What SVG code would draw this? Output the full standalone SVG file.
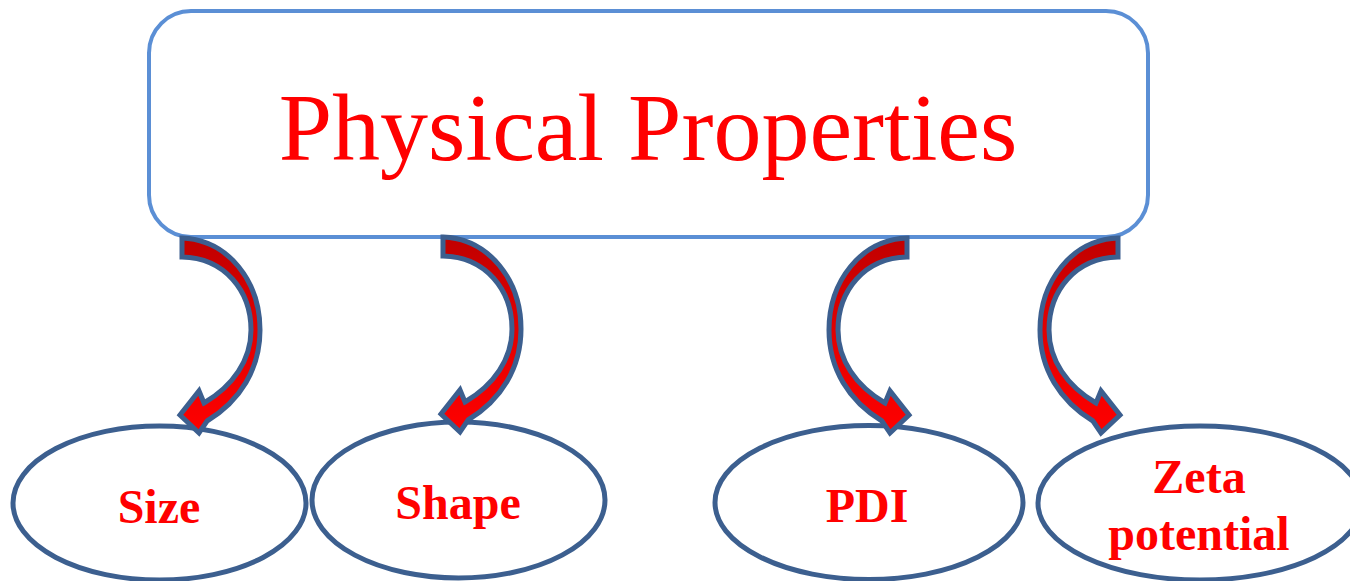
<svg xmlns="http://www.w3.org/2000/svg" width="1350" height="581" viewBox="0 0 1350 581">
<defs>
<linearGradient id="redgrad" x1="0" y1="0" x2="0" y2="1">
<stop offset="0" stop-color="#c00000"/>
<stop offset="0.45" stop-color="#e00000"/>
<stop offset="1" stop-color="#ff0000"/>
</linearGradient>
<path id="curvearrow" d="M182,238 C229,240 260,282 260,330 C260,369 240,401 207,421 L199,433 L180,415 L199,391 L204,403 C233,386 251,360 251,330 C251,291 225,258 182,257 Z"/>
</defs>
<style>
.box{fill:#ffffff;stroke:#5b8fd5;stroke-width:4}
.ell{fill:#ffffff;stroke:#3c5f8f;stroke-width:5}
.arr{fill:url(#redgrad);stroke:#3c5f8f;stroke-width:5;stroke-linejoin:miter}
.title{font-family:"Liberation Serif","Times New Roman",serif;font-size:96px;fill:#ff0000;text-anchor:middle}
.lbl{font-family:"Liberation Serif","Times New Roman",serif;font-weight:bold;font-size:48px;fill:#ff0000;text-anchor:middle}
</style>
<rect width="1350" height="581" fill="#ffffff"/>
<g id="physical-properties">
<rect class="box" x="149" y="11" width="999" height="226" rx="42" ry="42"/>
<text class="title" x="648" y="160">Physical Properties</text>
</g>
<g id="size">
<ellipse class="ell" cx="159.5" cy="503" rx="146.5" ry="77"/>
<text class="lbl" x="159" y="523">Size</text>
</g>
<g id="shape">
<ellipse class="ell" cx="458.5" cy="500" rx="146.5" ry="78"/>
<text class="lbl" x="458" y="519">Shape</text>
</g>
<g id="pdi">
<ellipse class="ell" cx="869" cy="502.5" rx="154" ry="77"/>
<text class="lbl" x="867" y="522">PDI</text>
</g>
<g id="zeta">
<ellipse class="ell" cx="1200" cy="503" rx="162" ry="77"/>
<text class="lbl" x="1199" y="493">Zeta</text>
<text class="lbl" x="1199" y="550">potential</text>
</g>
<g id="connectors">
<use class="arr" href="#curvearrow"/>
<use class="arr" href="#curvearrow" transform="translate(261,-1)"/>
<use class="arr" href="#curvearrow" transform="matrix(-1,0,0,1,1089,0)"/>
<use class="arr" href="#curvearrow" transform="matrix(-1,0,0,1,1300,0)"/>
</g>
</svg>
